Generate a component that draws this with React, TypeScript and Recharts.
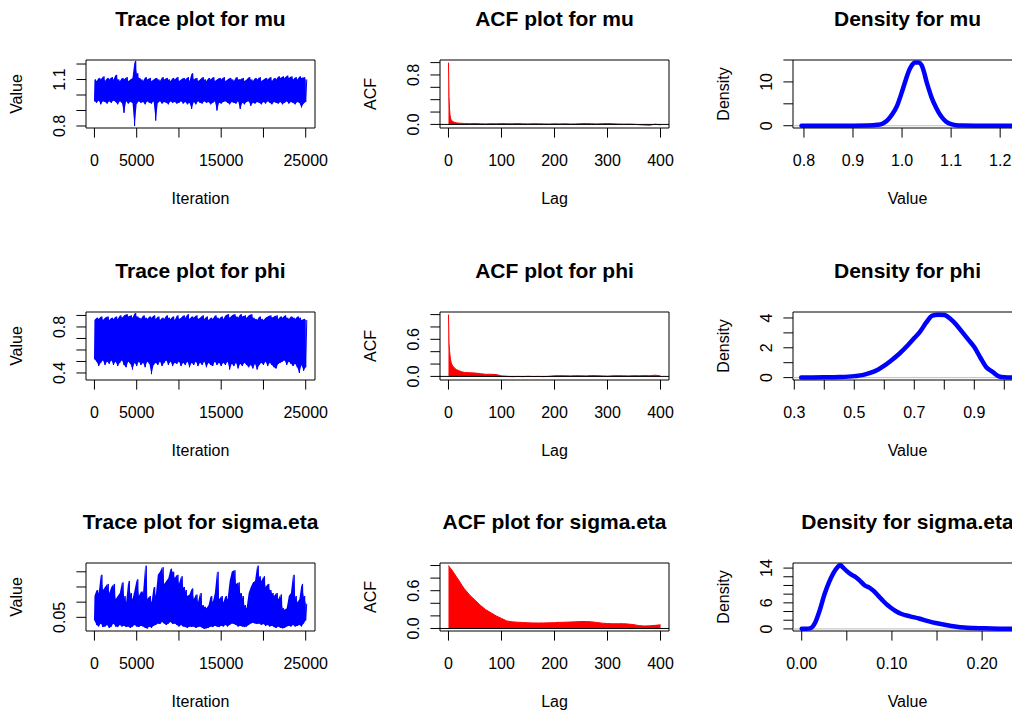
import React from 'react';
import { ComposedChart, Area, Line, XAxis, YAxis, ReferenceArea, ReferenceLine } from 'recharts';

const FONT = '"Liberation Sans", Arial, Helvetica, sans-serif';

// ---------- Trace data (low / high excursions per 250 iterations) ----------
const traceIter = Array.from({ length: 101 }, (_, i) => i * 250);

const muHi = [1.10,1.09,1.11,1.10,1.12,1.09,1.11,1.10,1.115,1.10,
  1.13,1.10,1.09,1.11,1.10,1.115,1.09,1.10,1.11,1.22,
  1.14,1.11,1.10,1.09,1.115,1.10,1.11,1.09,1.10,1.11,
  1.10,1.09,1.115,1.10,1.11,1.10,1.09,1.11,1.10,1.115,
  1.09,1.10,1.11,1.10,1.115,1.09,1.14,1.10,1.11,1.09,
  1.10,1.115,1.10,1.09,1.11,1.10,1.115,1.09,1.10,1.11,
  1.10,1.115,1.09,1.10,1.11,1.10,1.09,1.115,1.10,1.10,
  1.11,1.09,1.10,1.115,1.10,1.09,1.11,1.10,1.115,1.09,
  1.10,1.11,1.10,1.115,1.09,1.11,1.10,1.12,1.11,1.12,
  1.11,1.125,1.11,1.12,1.10,1.115,1.10,1.12,1.11,1.115,1.10];
const muLo = [0.96,0.95,0.965,0.94,0.96,0.955,0.945,0.96,0.95,0.965,
  0.955,0.94,0.96,0.95,0.885,0.96,0.945,0.955,0.95,0.80,
  0.945,0.96,0.95,0.955,0.94,0.96,0.95,0.945,0.96,0.835,
  0.95,0.96,0.945,0.955,0.95,0.94,0.96,0.95,0.955,0.945,
  0.95,0.96,0.945,0.955,0.94,0.95,0.91,0.955,0.94,0.96,
  0.95,0.945,0.96,0.95,0.955,0.94,0.95,0.96,0.90,0.95,
  0.945,0.955,0.96,0.95,0.94,0.955,0.95,0.945,0.96,0.91,
  0.95,0.94,0.955,0.96,0.93,0.95,0.945,0.955,0.95,0.94,
  0.955,0.945,0.96,0.95,0.94,0.955,0.95,0.945,0.955,0.94,
  0.95,0.96,0.945,0.955,0.95,0.94,0.955,0.95,0.92,0.945,0.955];

const phiHi = [0.86,0.88,0.87,0.89,0.86,0.88,0.89,0.86,0.88,0.87,
  0.89,0.87,0.90,0.88,0.90,0.91,0.89,0.90,0.88,0.92,
  0.89,0.88,0.87,0.90,0.88,0.87,0.89,0.88,0.90,0.87,
  0.89,0.86,0.88,0.87,0.90,0.88,0.87,0.89,0.86,0.90,
  0.87,0.88,0.90,0.88,0.91,0.87,0.89,0.88,0.90,0.87,
  0.88,0.90,0.87,0.89,0.86,0.88,0.87,0.90,0.88,0.87,
  0.89,0.87,0.90,0.91,0.88,0.90,0.91,0.89,0.88,0.91,
  0.89,0.90,0.88,0.90,0.91,0.88,0.87,0.86,0.89,0.87,
  0.86,0.88,0.89,0.90,0.88,0.89,0.90,0.87,0.89,0.88,
  0.90,0.88,0.87,0.89,0.88,0.87,0.89,0.88,0.86,0.87,0.86];
const phiLo = [0.52,0.50,0.46,0.49,0.51,0.47,0.50,0.48,0.51,0.47,
  0.50,0.46,0.49,0.51,0.47,0.45,0.50,0.48,0.43,0.49,
  0.46,0.50,0.47,0.49,0.45,0.50,0.48,0.39,0.47,0.49,
  0.47,0.50,0.46,0.49,0.51,0.47,0.50,0.46,0.49,0.48,
  0.50,0.46,0.49,0.47,0.50,0.45,0.49,0.47,0.50,0.46,
  0.49,0.47,0.50,0.45,0.49,0.47,0.46,0.50,0.47,0.49,
  0.46,0.49,0.47,0.50,0.43,0.48,0.46,0.49,0.44,0.48,
  0.46,0.49,0.47,0.45,0.47,0.44,0.48,0.43,0.47,0.49,
  0.47,0.50,0.46,0.49,0.47,0.45,0.44,0.48,0.49,0.50,
  0.51,0.47,0.50,0.48,0.46,0.48,0.45,0.40,0.47,0.42,0.45];

const sigHi = [0.12,0.14,0.13,0.19,0.14,0.15,0.16,0.13,0.15,0.16,
  0.11,0.12,0.13,0.165,0.12,0.10,0.17,0.13,0.11,0.14,
  0.175,0.12,0.135,0.13,0.22,0.11,0.12,0.10,0.15,0.12,
  0.19,0.20,0.215,0.16,0.17,0.18,0.21,0.20,0.18,0.19,
  0.16,0.185,0.15,0.14,0.12,0.125,0.145,0.11,0.125,0.10,
  0.13,0.09,0.085,0.08,0.09,0.12,0.10,0.13,0.20,0.11,
  0.12,0.10,0.12,0.11,0.17,0.20,0.205,0.16,0.165,0.13,
  0.12,0.09,0.08,0.13,0.15,0.165,0.17,0.22,0.185,0.17,
  0.185,0.15,0.16,0.14,0.13,0.12,0.13,0.11,0.125,0.08,
  0.075,0.08,0.12,0.13,0.19,0.12,0.10,0.11,0.16,0.12,0.095];
const sigLo = [0.04,0.025,0.02,0.03,0.018,0.02,0.025,0.015,0.02,0.03,
  0.02,0.018,0.025,0.02,0.022,0.018,0.02,0.015,0.02,0.025,
  0.02,0.018,0.022,0.02,0.016,0.013,0.02,0.015,0.022,0.025,
  0.03,0.028,0.035,0.03,0.025,0.03,0.035,0.028,0.03,0.025,
  0.02,0.025,0.02,0.018,0.015,0.02,0.018,0.02,0.015,0.018,
  0.02,0.016,0.012,0.014,0.016,0.02,0.018,0.022,0.02,0.018,
  0.022,0.02,0.025,0.02,0.025,0.03,0.028,0.025,0.02,0.022,
  0.02,0.018,0.02,0.025,0.03,0.032,0.03,0.028,0.03,0.025,
  0.028,0.022,0.025,0.02,0.022,0.018,0.015,0.02,0.016,0.014,
  0.015,0.02,0.022,0.02,0.025,0.02,0.022,0.025,0.02,0.03,0.04];

// ---------- ACF data ----------
const acfLags = [0,1,2,3,4,5,6,8,10,12,15,20,25,30,
  40,50,60,70,80,90,100,110,120,130,140,150,160,170,180,190,
  200,210,220,230,240,250,260,270,280,290,300,310,320,330,340,350,360,370,380,390,400];
const acfMu = [1.0,0.45,0.25,0.15,0.10,0.08,0.06,0.05,0.04,0.03,0.025,0.02,0.018,0.015,
  0.012,0.015,0.01,0.008,0.012,0.01,0.015,0.012,0.01,0.015,0.01,0.008,0.012,0.01,0.008,0.006,
  0.01,0.008,0.01,0.006,0.008,0.012,0.015,0.01,0.008,0.012,0.015,0.01,0.006,0.004,0.005,0.002,-0.005,-0.01,-0.012,0.004,-0.008];
const acfPhi = [1.0,0.55,0.42,0.33,0.27,0.23,0.2,0.17,0.15,0.13,0.11,0.09,0.075,0.065,
  0.06,0.055,0.045,0.035,0.035,0.03,0.008,0.002,-0.005,0.0,-0.004,0.002,-0.003,0.0,-0.004,0.002,
  0.01,0.012,0.01,0.008,0.012,0.01,0.008,0.014,0.012,0.008,0.004,0.01,0.012,0.01,0.008,0.012,0.01,0.014,0.01,0.02,0.008];
const acfSigma = [1.0,0.99,0.98,0.965,0.955,0.945,0.935,0.91,0.885,0.86,0.82,0.76,0.69,0.63,
  0.53,0.45,0.37,0.30,0.25,0.20,0.16,0.12,0.105,0.10,0.095,0.09,0.088,0.087,0.088,0.09,
  0.093,0.097,0.1,0.103,0.106,0.11,0.11,0.105,0.095,0.085,0.078,0.075,0.075,0.076,0.07,0.06,0.045,0.04,0.042,0.05,0.058];

// ---------- Density data ----------
const densMuX = [0.795,0.85,0.9,0.93,0.95,0.96,0.97,0.98,0.99,1.0,1.01,1.015,1.02,1.025,1.03,1.035,1.04,1.045,1.05,1.055,1.06,1.07,1.08,1.09,1.1,1.11,1.12,1.15,1.2,1.227];
const densMuY = [0,0,0.01,0.05,0.2,0.45,1.2,2.6,4.6,7.8,11.3,12.8,13.8,14.4,14.45,14.4,13.8,12.2,10.0,8.2,6.5,4.0,2.1,0.9,0.35,0.12,0.04,0.01,0,0];
const densPhiX = [0.323,0.35,0.4,0.45,0.5,0.53,0.55,0.58,0.6,0.62,0.65,0.68,0.7,0.72,0.74,0.76,0.78,0.8,0.82,0.84,0.86,0.88,0.9,0.92,0.94,0.96,0.98,1.0,1.033];
const densPhiY = [0.01,0.01,0.02,0.04,0.1,0.18,0.3,0.55,0.8,1.1,1.6,2.2,2.65,3.1,3.7,4.15,4.22,4.2,3.95,3.55,3.05,2.55,2.05,1.35,0.7,0.4,0.1,0.02,0.0];
const densSigX = [0,0.005,0.01,0.015,0.02,0.025,0.03,0.035,0.04,0.043,0.045,0.05,0.055,0.06,0.065,0.07,0.075,0.08,0.085,0.09,0.095,0.1,0.105,0.11,0.12,0.13,0.14,0.15,0.16,0.17,0.18,0.19,0.2,0.21,0.22,0.235];
const densSigY = [0.05,0.05,0.2,1.5,4.3,7.8,10.6,12.8,14.3,14.7,14.3,13.3,12.5,11.9,11.0,10.0,9.5,8.7,7.6,6.5,5.5,4.7,4.0,3.5,2.9,2.4,1.8,1.3,0.9,0.55,0.3,0.2,0.15,0.1,0.06,0.03];

// ---------- Tick labels ----------
const iterTicks = [0, 5000, 10000, 15000, 20000, 25000];
const iterLabels = ['0', '5000', '15000', '25000'];
const lagTicks = [0, 100, 200, 300, 400];
const lagLabels = ['0', '100', '200', '300', '400'];
const acfTicks = [0, 0.2, 0.4, 0.6, 0.8, 1.0];

// ---------- Layout ----------
const BOX_W = 229, BOX_H = 68, ML = 80, MT = 60, MR = 30, MB = 90;
const COL_X = [86, 439.5, 792.5];
const ROW_Y = [60, 311.7, 563.4];

const rows = (keys: number[], vals: number[], k: string, v: string) => keys.map((x, i) => ({ [k]: x, [v]: vals[i] }));
// each 250-iteration block: band [low, high], and the chain's visits to its low and high excursions
const traceRows = (lo: number[], hi: number[]) =>
  traceIter.flatMap((it, i) => [
    { iter: it, v: lo[i], band: [lo[i], hi[i]] },
    { iter: it + 125, v: hi[i] },
  ]);

type PanelProps = {
  col: number; row: number; title: string; xTitle: string; yTitle: string;
  data: any[]; xKey: string; xDomain: [number, number]; yDomain: [number, number];
  xTicks: number[]; xShow: string[]; xFmt: (v: number) => string;
  yTicks: number[]; yShow: string[]; yFmt: (v: number) => string;
  children?: React.ReactNode;
};

const txt = { fontFamily: FONT, fill: '#000' };

function Panel(p: PanelProps) {
  const left = COL_X[p.col] - ML;
  const top = ROW_Y[p.row] - MT;
  const xTick = (t: any) => {
    const s = p.xFmt(t.payload.value);
    return (
      <text x={t.x} y={t.y + 28.5} textAnchor="middle" fontSize={16} {...txt}>
        {p.xShow.includes(s) ? s : ''}
      </text>
    );
  };
  const yTick = (t: any) => {
    const s = p.yFmt(t.payload.value);
    const bx = t.x - 11.5;
    return (
      <text x={bx} y={t.y} transform={`rotate(-90 ${bx} ${t.y})`} textAnchor="middle" fontSize={16} {...txt}>
        {p.yShow.includes(s) ? s : ''}
      </text>
    );
  };
  return (
    <div style={{ position: 'absolute', left, top }}>
      <ComposedChart width={ML + BOX_W + MR} height={MT + BOX_H + MB} data={p.data}
        margin={{ top: MT, right: MR, bottom: 0, left: 0 }}>
        <XAxis type="number" dataKey={p.xKey} domain={p.xDomain} allowDataOverflow ticks={p.xTicks}
          interval={0} height={MB} tickSize={9.6} tickMargin={0} axisLine={false}
          tickLine={{ stroke: '#000', strokeWidth: 1 }} tick={xTick}
          label={{
            content: (lp: any) => {
              const vb = lp.viewBox;
              return <text x={vb.x + vb.width / 2} y={vb.y + 76} textAnchor="middle" fontSize={16} {...txt}>{p.xTitle}</text>;
            }
          }} />
        <YAxis type="number" domain={p.yDomain} allowDataOverflow ticks={p.yTicks}
          interval={0} width={ML} tickSize={9.6} tickMargin={0} axisLine={false}
          tickLine={{ stroke: '#000', strokeWidth: 1 }} tick={yTick}
          label={{
            content: (lp: any) => {
              const vb = lp.viewBox;
              const bx = vb.x + vb.width - 64;
              const cy = vb.y + vb.height / 2;
              return <text x={bx} y={cy} transform={`rotate(-90 ${bx} ${cy})`} textAnchor="middle" fontSize={16} {...txt}>{p.yTitle}</text>;
            }
          }} />
        {p.children}
        <ReferenceArea x1={p.xDomain[0]} x2={p.xDomain[1]} y1={p.yDomain[0]} y2={p.yDomain[1]}
          fill="none" fillOpacity={0} stroke="#000" strokeWidth={1} ifOverflow="visible"
          label={{
            content: (lp: any) => {
              const vb = lp.viewBox;
              return <text x={vb.x + vb.width / 2} y={vb.y - 34.3} textAnchor="middle" fontSize={21} fontWeight="bold" {...txt}>{p.title}</text>;
            }
          }} />
      </ComposedChart>
    </div>
  );
}

const fInt = (v: number) => String(Math.round(v));
const f1 = (v: number) => v.toFixed(1);
const f2 = (v: number) => v.toFixed(2);

const traceBand = (
  <Area dataKey="band" type="linear" stroke="none" fill="#0000ff" fillOpacity={1} connectNulls
    dot={false} activeDot={false} isAnimationActive={false} />
);
const traceLine = (
  <Line dataKey="v" type="linear" stroke="#0000ff" strokeWidth={1}
    dot={false} activeDot={false} isAnimationActive={false} />
);
const acfArea = (
  <Area dataKey="acf" type="linear" stroke="#ff0000" strokeWidth={1} fill="#ff0000" fillOpacity={1}
    baseValue={0} dot={false} activeDot={false} isAnimationActive={false} />
);
const densLine = (
  <Line dataKey="d" type="monotone" stroke="#0000ff" strokeWidth={4.5} strokeLinejoin="round" strokeLinecap="round"
    dot={false} activeDot={false} isAnimationActive={false} />
);

export default function App() {
  const params = [
    { name: 'mu', lo: muLo, hi: muHi, yDom: [0.787, 1.226] as [number, number], yT: [0.8, 0.9, 1.0, 1.1, 1.2], yS: ['0.8', '1.1'], yF: f1 },
    { name: 'phi', lo: phiLo, hi: phiHi, yDom: [0.339, 0.93] as [number, number], yT: [0.4, 0.5, 0.6, 0.7, 0.8, 0.9], yS: ['0.4', '0.8'], yF: f1 },
    { name: 'sigma.eta', lo: sigLo, hi: sigHi, yDom: [0.005, 0.229] as [number, number], yT: [0.05, 0.1, 0.15, 0.2], yS: ['0.05'], yF: f2 },
  ];
  const acfs = [
    { data: acfMu, dom: [-0.058, 1.042] as [number, number], show: ['0.0', '0.8'] },
    { data: acfPhi, dom: [-0.058, 1.042] as [number, number], show: ['0.0', '0.6'] },
    { data: acfSigma, dom: [-0.04, 1.04] as [number, number], show: ['0.0', '0.6'] },
  ];
  const dens = [
    { x: densMuX, y: densMuY, xDom: [0.7777, 1.2445] as [number, number], xT: [0.8, 0.9, 1.0, 1.1, 1.2], xS: ['0.8', '0.9', '1.0', '1.1', '1.2'], xF: f1,
      yDom: [-0.52, 15.0] as [number, number], yT: [0, 5, 10, 15], yS: ['0', '10'] },
    { x: densPhiX, y: densPhiY, xDom: [0.2957, 1.059] as [number, number], xT: [0.3, 0.4, 0.5, 0.6, 0.7, 0.8, 0.9, 1.0], xS: ['0.3', '0.5', '0.7', '0.9'], xF: f1,
      yDom: [-0.16, 4.4] as [number, number], yT: [0, 1, 2, 3, 4], yS: ['0', '2', '4'] },
    { x: densSigX, y: densSigY, xDom: [-0.00965, 0.2442] as [number, number], xT: [0, 0.05, 0.1, 0.15, 0.2], xS: ['0.00', '0.10', '0.20'], xF: f2,
      yDom: [-0.48, 15.17] as [number, number], yT: [0, 2, 4, 6, 8, 10, 12, 14], yS: ['0', '6', '14'] },
  ];
  return (
    <div style={{ position: 'fixed', left: 0, top: 0, width: 1012, height: 713, overflow: 'hidden', background: '#fff' }}>
      {params.map((pr, r) => (
        <React.Fragment key={pr.name}>
          <Panel col={0} row={r} title={`Trace plot for ${pr.name}`} xTitle="Iteration" yTitle="Value"
            data={traceRows(pr.lo, pr.hi)} xKey="iter" xDomain={[-1000, 26100]} yDomain={pr.yDom}
            xTicks={iterTicks} xShow={iterLabels} xFmt={fInt} yTicks={pr.yT} yShow={pr.yS} yFmt={pr.yF}>
            {traceBand}
            {traceLine}
          </Panel>
          <Panel col={1} row={r} title={`ACF plot for ${pr.name}`} xTitle="Lag" yTitle="ACF"
            data={rows(acfLags, acfs[r].data, 'lag', 'acf')} xKey="lag" xDomain={[-16, 416]} yDomain={acfs[r].dom}
            xTicks={lagTicks} xShow={lagLabels} xFmt={fInt} yTicks={acfTicks} yShow={acfs[r].show} yFmt={f1}>
            {acfArea}
            <ReferenceLine y={0} stroke="#000" strokeWidth={1} />
          </Panel>
          <Panel col={2} row={r} title={`Density for ${pr.name}`} xTitle="Value" yTitle="Density"
            data={rows(dens[r].x, dens[r].y, 'v', 'd')} xKey="v" xDomain={dens[r].xDom} yDomain={dens[r].yDom}
            xTicks={dens[r].xT} xShow={dens[r].xS} xFmt={dens[r].xF} yTicks={dens[r].yT} yShow={dens[r].yS} yFmt={fInt}>
            <ReferenceLine y={0} stroke="#bebebe" strokeWidth={1} />
            {densLine}
          </Panel>
        </React.Fragment>
      ))}
    </div>
  );
}
